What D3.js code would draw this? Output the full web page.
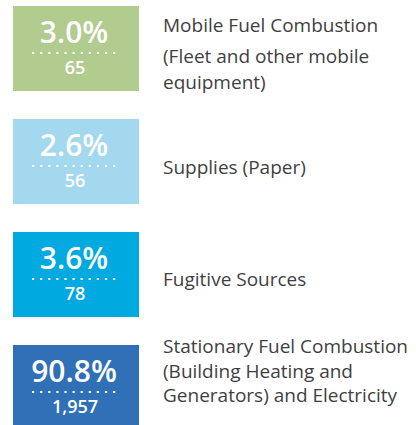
<!DOCTYPE html>
<html><head><meta charset="utf-8">
<script src="https://cdn.jsdelivr.net/npm/d3@7"></script>
<style>body{margin:0;background:#fff}svg{display:block}</style>
</head><body>
<script>
const categories = ["Mobile Fuel Combustion", "Supplies (Paper)", "Fugitive Sources", "Stationary Fuel Combustion"];
const labelLines = [
  ["Mobile Fuel Combustion", "(Fleet and other mobile", "equipment)"],
  ["Supplies (Paper)"],
  ["Fugitive Sources"],
  ["Stationary Fuel Combustion", "(Building Heating and", "Generators) and Electricity"]
];
const percents = [3.0, 2.6, 3.6, 90.8];
const emissions = [65, 56, 78, 1957];
const colors = ["#b2cb8e", "#a4d8ee", "#00a9df", "#3070b6"];

const W = 416, H = 425;
const svg = d3.select("body").append("svg").attr("width", W).attr("height", H);

const y = d3.scaleBand().domain(categories).range([6, 430]).paddingInner(0.248).paddingOuter(0);
const boxX = 13, boxW = 126;
const fmtPct = d => d3.format(".1f")(d) + "%";
const fmtNum = d3.format(",");

const g = svg.selectAll("g.item").data(categories).join("g").attr("class", "item")
  .attr("transform", d => `translate(0,${y(d)})`);

g.append("rect").attr("x", boxX).attr("y", 0).attr("width", boxW).attr("height", y.bandwidth())
  .attr("fill", (d, i) => colors[i]);

const cx = boxX + boxW / 2;
g.append("text").attr("x", cx - 2).attr("y", 37)
  .attr("text-anchor", "middle").attr("fill", "#fff")
  .attr("font-family", "Open Sans").attr("font-weight", 600).attr("font-size", 30)
  .text((d, i) => fmtPct(percents[i]));

g.append("line").attr("x1", cx - 44).attr("x2", cx + 45).attr("y1", 47).attr("y2", 47)
  .attr("stroke", "#fff").attr("stroke-width", 2.2).attr("stroke-dasharray", "2.2,5.9");

g.append("text").attr("x", cx - 1).attr("y", 68)
  .attr("text-anchor", "middle").attr("fill", "#fff")
  .attr("font-family", "Open Sans").attr("font-weight", 600).attr("font-size", 18)
  .text((d, i) => fmtNum(emissions[i]));

const lineBase = [[26, 57, 83], [55], [54], [8, 33, 57]];
g.each(function (d, i) {
  const t = d3.select(this).append("text").attr("fill", "#3f3f3f")
    .attr("font-family", "Open Sans").attr("font-size", 19);
  labelLines[i].forEach((l, j) => {
    t.append("tspan").attr("x", 163).attr("y", lineBase[i][j]).text(l);
  });
});
</script>
</body></html>
